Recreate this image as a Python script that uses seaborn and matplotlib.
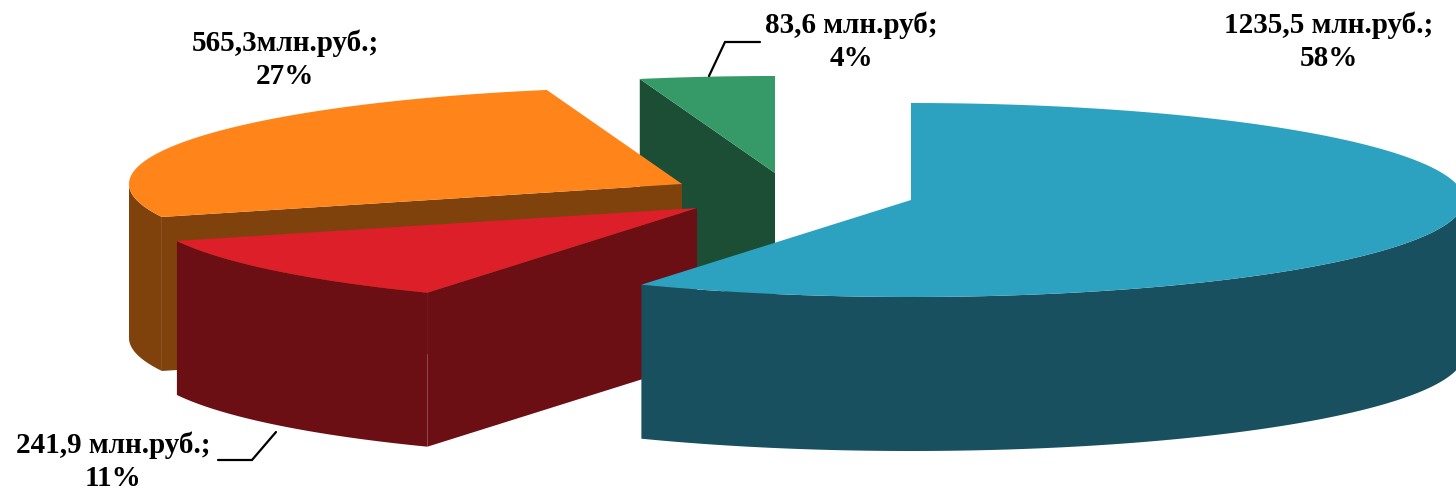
import numpy as np
import matplotlib
matplotlib.use("Agg")
import matplotlib.pyplot as plt
import seaborn as sns

# data
names = ["blue", "red", "orange", "green"]
values = [1235.5, 241.9, 565.3, 83.6]
labels = ["1235,5 млн.руб.;\n58%", "241,9 млн.руб.;\n11%", "565,3млн.руб.;\n27%", "83,6 млн.руб;\n4%"]
top_colors = ["#2DA2C0", "#DC1F28", "#FF851B", "#359A68"]
side_colors = ["#195060", "#6B0F14", "#80420C", "#1B4E35"]

# layout (pixels)
W, H = 1456, 491
centers = [(911, 200), (697, 208), (682, 184), (775, 173)]
RX, RY = 553, 97
DEPTH = 154
label_pos = [(1329, 42), (113, 462), (285, 60), (851, 42)]
leaders = [None, ([218, 252, 276], [460, 460, 432]), None, ([709, 725, 760], [76, 42, 42])]

sns.set_theme(style="white")
plt.rcParams["font.family"] = ["Liberation Serif", "DejaVu Serif"]
fig = plt.figure(figsize=(W / 100, H / 100), dpi=100, facecolor="white")
ax = fig.add_axes([0, 0, 1, 1])
ax.set_xlim(0, W)
ax.set_ylim(H, 0)
ax.axis("off")

total = sum(values)
edges = np.concatenate([[0], np.cumsum(values)]) / total * 360.0

# back-to-front painting order: green, orange, red, blue
i_order = {3: 0, 2: 1, 1: 2, 0: 3}


def rim(i, a0, a1):
    t = np.radians(np.linspace(a0, a1, 200))
    cx, cy = centers[i]
    return cx + RX * np.sin(t), cy - RY * np.cos(t)


def draw_top(i):
    x, y = rim(i, edges[i], edges[i + 1])
    cx, cy = centers[i]
    ax.fill(np.r_[cx, x], np.r_[cy, y], color=top_colors[i], lw=0, zorder=10 + 3 * i_order[i] + 2)


def draw_outer(i, a0, a1):
    x, y = rim(i, a0, a1)
    ax.fill(np.r_[x, x[::-1]], np.r_[y, y[::-1] + DEPTH], color=side_colors[i], lw=0,
            zorder=10 + 3 * i_order[i])


def draw_wall(i, angle):
    x, y = rim(i, angle, angle)
    cx, cy = centers[i]
    ax.fill([cx, x[0], x[0], cx], [cy, y[0], y[0] + DEPTH, cy + DEPTH], color=side_colors[i], lw=0,
            zorder=10 + 3 * i_order[i] + 1)


# green
draw_wall(3, edges[3])
draw_top(3)
# orange
draw_outer(2, edges[2], 270)
draw_wall(2, edges[2])
draw_top(2)
# red
draw_outer(1, edges[1], edges[2])
draw_wall(1, edges[1])
draw_top(1)
# blue
draw_outer(0, 90, edges[1])
draw_top(0)

for i in range(len(values)):
    x, y = label_pos[i]
    ax.text(x, y, labels[i], ha="center", va="center", fontsize=21, fontweight="bold",
            color="black", linespacing=1.3, zorder=30)
    if leaders[i] is not None:
        ax.plot(leaders[i][0], leaders[i][1], color="black", lw=1.6, zorder=30,
                solid_joinstyle="miter")

fig.savefig("out.png", dpi=100, facecolor="white")
